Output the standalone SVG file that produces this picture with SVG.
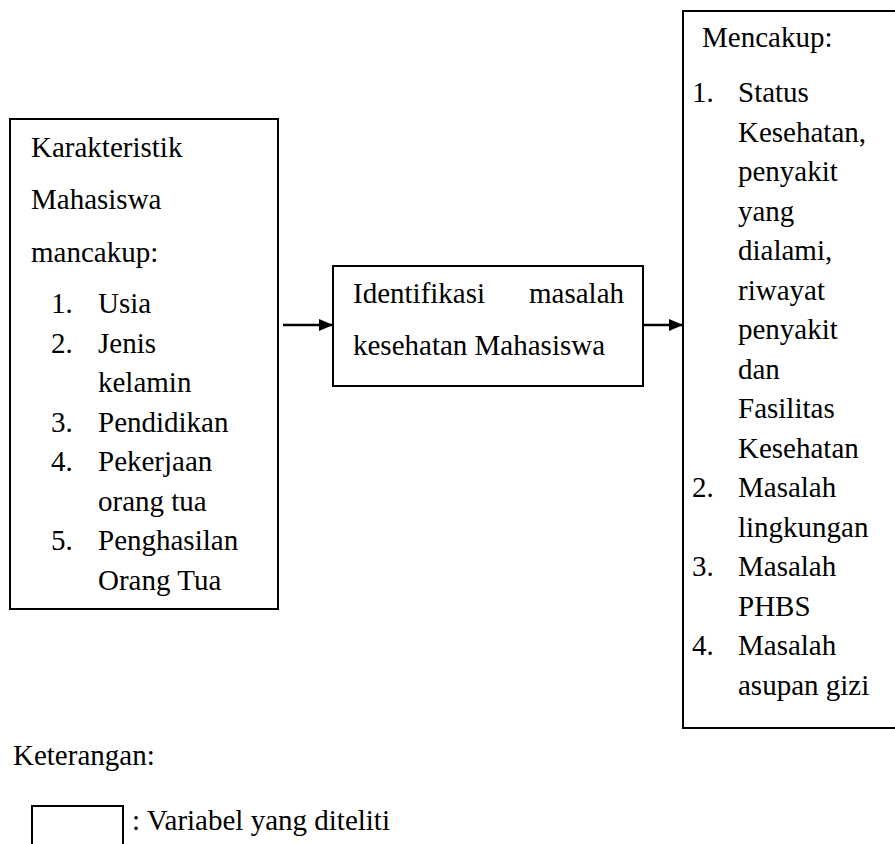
<svg xmlns="http://www.w3.org/2000/svg" width="895" height="844" viewBox="0 0 895 844">
<style>
text{font-size:29px;fill:#000}
.t{font-family:Liberation Serif}
.box{fill:#fff;stroke:#000;stroke-width:2}
.conn{stroke:#000;stroke-width:2.5;fill:none}
</style>
<defs>
<marker id="ah" markerWidth="14" markerHeight="12" refX="14" refY="6" orient="auto" markerUnits="userSpaceOnUse">
<path d="M0,0 L14,6 L0,12 Z" fill="#000"/>
</marker>
</defs>
<rect width="895" height="844" fill="#fff"/>
<g id="karakteristik">
<rect class="box" x="10" y="119" width="268" height="490"/>
<text class="t" x="31" y="157">Karakteristik</text>
<text class="t" x="31" y="209">Mahasiswa</text>
<text class="t" x="31" y="262">mancakup:</text>
<text class="t" x="51" y="313">1.</text><text class="t" x="98" y="313">Usia</text>
<text class="t" x="51" y="352.5">2.</text><text class="t" x="98" y="352.5">Jenis</text>
<text class="t" x="98" y="392">kelamin</text>
<text class="t" x="51" y="431.5">3.</text><text class="t" x="98" y="431.5">Pendidikan</text>
<text class="t" x="51" y="471">4.</text><text class="t" x="98" y="471">Pekerjaan</text>
<text class="t" x="98" y="510.5">orang tua</text>
<text class="t" x="51" y="550">5.</text><text class="t" x="98" y="550">Penghasilan</text>
<text class="t" x="98" y="589.5">Orang Tua</text>
</g>
<g id="identifikasi">
<rect class="box" x="333" y="266" width="310" height="120"/>
<text class="t" x="353" y="303">Identifikasi</text>
<text class="t" x="624" y="303" text-anchor="end">masalah</text>
<text class="t" x="353" y="355">kesehatan Mahasiswa</text>
</g>
<g id="mencakup">
<rect class="box" x="683" y="11" width="220" height="717"/>
<text class="t" x="702" y="47">Mencakup:</text>
<text class="t" x="692" y="102">1.</text><text class="t" x="738" y="102">Status</text>
<text class="t" x="738" y="141.5">Kesehatan,</text>
<text class="t" x="738" y="181">penyakit</text>
<text class="t" x="738" y="220.5">yang</text>
<text class="t" x="738" y="260">dialami,</text>
<text class="t" x="738" y="299.5">riwayat</text>
<text class="t" x="738" y="339">penyakit</text>
<text class="t" x="738" y="378.5">dan</text>
<text class="t" x="738" y="418">Fasilitas</text>
<text class="t" x="738" y="457.5">Kesehatan</text>
<text class="t" x="692" y="497">2.</text><text class="t" x="738" y="497">Masalah</text>
<text class="t" x="738" y="536.5">lingkungan</text>
<text class="t" x="692" y="576">3.</text><text class="t" x="738" y="576">Masalah</text>
<text class="t" x="738" y="615.5">PHBS</text>
<text class="t" x="692" y="655">4.</text><text class="t" x="738" y="655">Masalah</text>
<text class="t" x="738" y="694.5">asupan gizi</text>
</g>
<g id="connectors">
<line class="conn" x1="283" y1="325" x2="333" y2="325" marker-end="url(#ah)"/>
<line class="conn" x1="643" y1="325" x2="683" y2="325" marker-end="url(#ah)"/>
</g>
<g id="legend">
<text class="t" x="13" y="765">Keterangan:</text>
<rect class="box" x="32" y="806" width="91" height="50"/>
<text class="t" x="132" y="830">: Variabel yang diteliti</text>
</g>
</svg>
